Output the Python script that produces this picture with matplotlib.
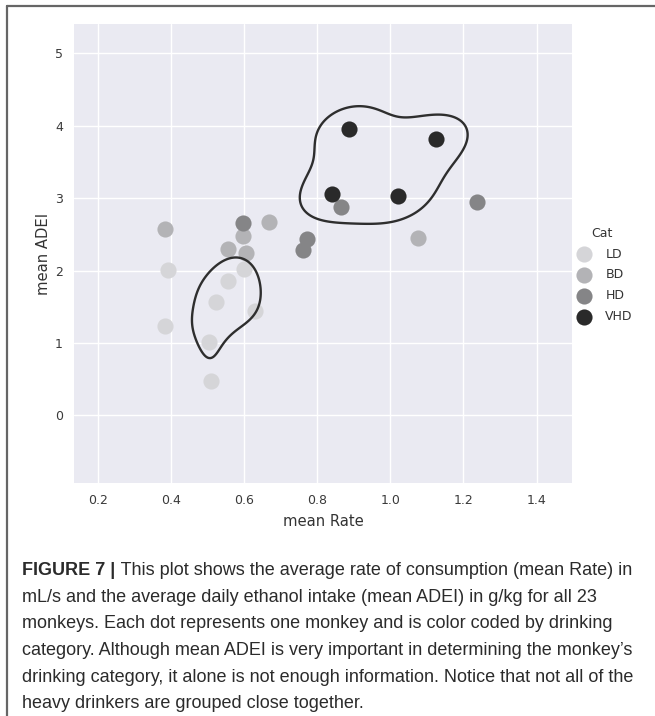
import numpy as np
import matplotlib
matplotlib.use("Agg")
import matplotlib.pyplot as plt
import seaborn as sns
from matplotlib.lines import Line2D

# ---- data: mean consumption rate (mL/s) and mean ADEI (g/kg) per monkey ----
categories = ["LD", "BD", "HD", "VHD"]
ld_rate = [0.391, 0.384, 0.601, 0.557, 0.524, 0.629, 0.505, 0.511]
ld_adei = [2.01, 1.24, 2.02, 1.85, 1.56, 1.44, 1.01, 0.48]
bd_rate = [0.384, 0.596, 0.669, 0.556, 0.606, 1.076]
bd_adei = [2.57, 2.48, 2.67, 2.30, 2.24, 2.45]
hd_rate = [0.596, 0.772, 0.762, 0.864, 1.236]
hd_adei = [2.65, 2.43, 2.28, 2.88, 2.95]
vhd_rate = [0.888, 1.126, 0.841, 1.021]
vhd_adei = [3.95, 3.82, 3.06, 3.03]

x_ticks = [0.2, 0.4, 0.6, 0.8, 1.0, 1.2, 1.4]
y_ticks = [0, 1, 2, 3, 4, 5]

caption_head = "FIGURE 7 |"
caption_lines = [
    " This plot shows the average rate of consumption (mean Rate) in",
    "mL/s and the average daily ethanol intake (mean ADEI) in g/kg for all 23",
    "monkeys. Each dot represents one monkey and is color coded by drinking",
    "category. Although mean ADEI is very important in determining the monkey\u2019s",
    "drinking category, it alone is not enough information. Notice that not all of the",
    "heavy drinkers are grouped close together.",
]

colors = {"LD": "#d5d5d8", "BD": "#b3b3b6", "HD": "#858587", "VHD": "#2a2a2a"}

sns.set_style("darkgrid")
plt.rcParams["font.family"] = ["DejaVu Sans"]

W, H = 655, 716
fig = plt.figure(figsize=(W / 100, H / 100), dpi=100)
fig.patch.set_facecolor("white")

# axes placement in pixels
ax_l, ax_r, ax_t, ax_b = 74, 572, 24, 483
ax = fig.add_axes([ax_l / W, 1 - ax_b / H, (ax_r - ax_l) / W, (ax_b - ax_t) / H])
ax.set_facecolor("#EAEAF2")
ax.grid(True, color="white", linewidth=1.0)
for s in ax.spines.values():
    s.set_visible(False)

groups = {
    "LD": (ld_rate, ld_adei),
    "BD": (bd_rate, bd_adei),
    "HD": (hd_rate, hd_adei),
    "VHD": (vhd_rate, vhd_adei),
}
handles = []
for cat in categories:
    xs, ys = groups[cat]
    h = ax.scatter(xs, ys, s=135, color=colors[cat], linewidths=0, zorder=3, label=cat)
    handles.append(h)


def kde_density(xs, ys, bw_adjust, gx, gy, diagonal=False):
    """Gaussian KDE (Scott's rule) evaluated on a grid, scaled to max 1."""
    data = np.vstack([xs, ys])
    n = data.shape[1]
    factor = n ** (-1.0 / 6.0) * bw_adjust
    cov = np.cov(data)
    if diagonal:
        cov = np.diag(np.diag(cov))
    inv = np.linalg.inv(cov * factor ** 2)
    pts = np.vstack([gx.ravel(), gy.ravel()])
    dens = np.zeros(pts.shape[1])
    for i in range(n):
        d = pts - data[:, i:i + 1]
        q = np.sum(d * (inv @ d), axis=0)
        dens += np.exp(-0.5 * q)
    dens = dens.reshape(gx.shape)
    return dens / dens.max()


gx, gy = np.meshgrid(np.linspace(0.1, 1.6, 450), np.linspace(-1.2, 6.0, 600))
d_ld = kde_density(ld_rate, ld_adei, 1.0, gx, gy, diagonal=True)
d_vhd = kde_density(vhd_rate, vhd_adei, 0.95, gx, gy)
ax.contour(gx, gy, d_ld, levels=[0.625], colors="#2e2e2e", linewidths=1.7, zorder=4)
ax.contour(gx, gy, d_vhd, levels=[0.53], colors="#2e2e2e", linewidths=1.7, zorder=4)

ax.set_xlim(0.135, 1.497)
ax.set_ylim(-0.935, 5.405)
ax.set_xticks(x_ticks)
ax.set_yticks(y_ticks)
ax.set_xticklabels([f"{v:.1f}" for v in x_ticks])
ax.set_yticklabels([str(v) for v in y_ticks])
ax.tick_params(axis="both", length=0, labelsize=9, colors="#3a3a3a", pad=8)
ax.set_xlabel("mean Rate", fontsize=10.6, color="#333333", labelpad=5)
ax.set_ylabel("mean ADEI", fontsize=10.6, color="#333333", labelpad=3)

leg = fig.legend(handles=handles, labels=categories, title="Cat", frameon=False,
                 loc="upper left", bbox_to_anchor=(566 / W, 1 - 222 / H),
                 fontsize=9, title_fontsize=9, handletextpad=0.75,
                 labelspacing=0.62, borderaxespad=0)
for t in leg.get_texts():
    t.set_color("#333333")
leg.get_title().set_color("#333333")

# figure frame: top and left rule
fig.add_artist(Line2D([7 / W, 7 / W], [0, 1 - 6 / H], transform=fig.transFigure,
                      color="#666666", linewidth=1.6))
fig.add_artist(Line2D([7 / W, 1], [1 - 6 / H, 1 - 6 / H], transform=fig.transFigure,
                      color="#666666", linewidth=1.6))

# caption
cap_font = ["Liberation Sans", "DejaVu Sans"]
cap_size = 13.0
cap_color = "#2b2b2b"
x0 = 22.5
baselines = [575, 601.7, 628.3, 655, 681.7, 708.3]
head = fig.text(x0 / W, 1 - baselines[0] / H, caption_head, fontsize=cap_size,
                fontweight="bold", family=cap_font, color=cap_color, va="baseline")
renderer = fig.canvas.get_renderer()
bb = head.get_window_extent(renderer)
head_w = bb.width
for i, line in enumerate(caption_lines):
    xx = x0 + (head_w if i == 0 else 0)
    fig.text(xx / W, 1 - baselines[i] / H, line, fontsize=cap_size,
             family=cap_font, color=cap_color, va="baseline")

fig.savefig("out.png", dpi=100, facecolor="white")
